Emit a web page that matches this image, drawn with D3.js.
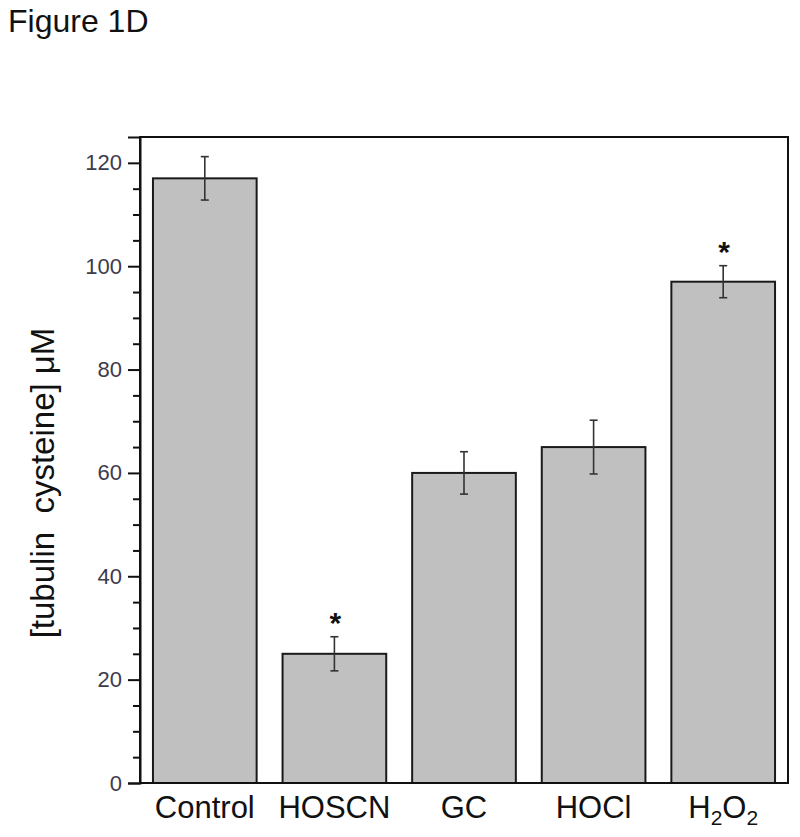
<!DOCTYPE html>
<html>
<head>
<meta charset="utf-8">
<script src="https://cdn.jsdelivr.net/npm/d3@7"></script>
<style>
  html, body { margin: 0; padding: 0; background: #fff; }
  svg { display: block; font-family: Arial, "Liberation Sans", Helvetica, sans-serif; }
</style>
</head>
<body>
<svg id="chart" width="800" height="837"></svg>
<script>
const categories = ["Control", "HOSCN", "GC", "HOCl", "H2O2"];
const values = [117, 25, 60, 65, 97];
const errors = [4.2, 3.3, 4.1, 5.2, 3.1];
const significant = [false, true, false, false, true];
const majorTicks = [0, 20, 40, 60, 80, 100, 120];
const minorTicks = d3.range(0, 125, 5).filter(v => v % 20 !== 0);

const svg = d3.select("#chart");
const W = 800, H = 837;
const m = { left: 140, right: 12, top: 137, bottom: 54 };
const x = d3.scaleBand().domain(categories).range([m.left, W - m.right]).paddingInner(0.2).paddingOuter(0.1);
const y = d3.scaleLinear().domain([0, 125]).range([H - m.bottom, m.top]);

svg.append("text").attr("x", 8).attr("y", 32).attr("font-size", 32).attr("fill", "#111").text("Figure 1D");

// bars
svg.append("g").selectAll("rect").data(categories).join("rect")
  .attr("x", d => x(d)).attr("width", x.bandwidth())
  .attr("y", (d, i) => y(values[i])).attr("height", (d, i) => y(0) - y(values[i]))
  .attr("fill", "#c0c0c0").attr("stroke", "#1a1a1a").attr("stroke-width", 2);

// error bars
const eg = svg.append("g").attr("stroke", "#333").attr("stroke-width", 1.6);
categories.forEach((c, i) => {
  const cx = x(c) + x.bandwidth() / 2;
  const t = y(values[i] + errors[i]), b = y(values[i] - errors[i]);
  eg.append("line").attr("x1", cx).attr("x2", cx).attr("y1", t).attr("y2", b);
  eg.append("line").attr("x1", cx - 4).attr("x2", cx + 4).attr("y1", t).attr("y2", t);
  eg.append("line").attr("x1", cx - 4).attr("x2", cx + 4).attr("y1", b).attr("y2", b);
  if (significant[i]) {
    svg.append("text").attr("x", cx + 1).attr("y", t - 4).attr("text-anchor", "middle")
      .attr("font-size", 30).attr("font-weight", "bold").attr("fill", "#111").text("*");
  }
});

// frame
svg.append("rect").attr("x", m.left).attr("y", m.top).attr("width", W - m.right - m.left)
  .attr("height", H - m.bottom - m.top).attr("fill", "none").attr("stroke", "#111").attr("stroke-width", 2);

// y axis
const yAxis = svg.append("g").attr("transform", `translate(${m.left},0)`)
  .call(d3.axisLeft(y).tickValues(majorTicks).tickSize(12).tickPadding(6).tickFormat(d3.format("d")));
yAxis.select(".domain").attr("stroke", "#111").attr("stroke-width", 2);
yAxis.selectAll(".tick line").attr("stroke", "#111").attr("stroke-width", 2);
yAxis.selectAll(".tick text").attr("font-size", 22).attr("fill", "#3c3c4c").attr("font-family", "Arial, 'Liberation Sans', sans-serif");
const yMinor = svg.append("g").attr("transform", `translate(${m.left},0)`)
  .call(d3.axisLeft(y).tickValues(minorTicks).tickSize(7).tickFormat(""));
yMinor.select(".domain").remove();
yMinor.selectAll(".tick line").attr("stroke", "#111").attr("stroke-width", 2);

// x labels
const xl = svg.append("g");
categories.forEach(c => {
  const t = xl.append("text").attr("x", x(c) + x.bandwidth() / 2).attr("y", 818)
    .attr("text-anchor", "middle").attr("font-size", 31).attr("fill", "#111");
  if (c === "H2O2") {
    t.append("tspan").text("H");
    t.append("tspan").attr("font-size", 21).attr("dy", 7).text("2");
    t.append("tspan").attr("dy", -7).text("O");
    t.append("tspan").attr("font-size", 21).attr("dy", 7).text("2");
  } else {
    t.text(c);
  }
});

// y label
svg.append("text").attr("transform", "translate(54,483) rotate(-90)").attr("text-anchor", "middle")
  .attr("font-size", 33).attr("fill", "#111").attr("xml:space", "preserve").style("white-space", "pre")
  .text("[tubulin  cysteine] μM");
</script>
</body>
</html>
